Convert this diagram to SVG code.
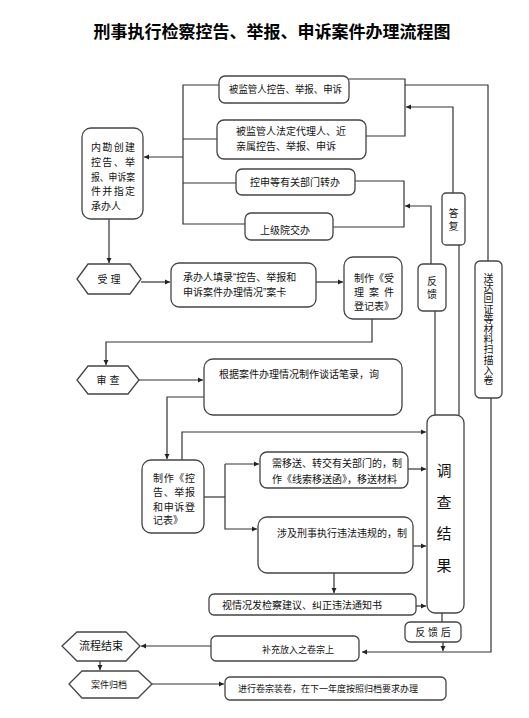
<svg xmlns="http://www.w3.org/2000/svg" width="529" height="718" viewBox="0 0 529 718">
<defs>
<marker id="arr" markerWidth="6" markerHeight="6" refX="5" refY="3" orient="auto" markerUnits="userSpaceOnUse">
<path d="M0,0.5 L5,3 L0,5.5 Z" fill="#222"/>
</marker>
<style>
.box{fill:#fff;stroke:#444;stroke-width:1.3}
.ln{fill:none;stroke:#333;stroke-width:1.2}
.t{font-family:"Liberation Sans","Noto Sans CJK SC",sans-serif;font-size:10px;fill:#111}
.c{text-anchor:middle}
.title{font-family:"Liberation Sans","Noto Sans CJK SC",sans-serif;font-size:17px;font-weight:bold;fill:#000;text-anchor:middle}
</style>
</defs>
<rect width="529" height="718" fill="#fff"/>
<text class="title" x="272" y="38">刑事执行检察控告、举报、申诉案件办理流程图</text>

<g id="connectors">
<path class="ln" d="M219,85 H183 V224 H245"/>
<path class="ln" d="M217,139 H183"/>
<path class="ln" d="M236,183 H183"/>
<path class="ln" d="M183,157 H144" marker-end="url(#arr)"/>
<path class="ln" d="M349,79 H405 V136 H366"/>
<path class="ln" d="M405,85 H488 V261"/>
<path class="ln" d="M453,193 V107 H406" marker-end="url(#arr)"/>
<path class="ln" d="M355,181 H404 V227 H333"/>
<path class="ln" d="M431,264 V206 H405" marker-end="url(#arr)"/>
<path class="ln" d="M435,311 V415"/>
<path class="ln" d="M459,245 V415"/>
<path class="ln" d="M491,398 V652 H362" marker-end="url(#arr)"/>
<path class="ln" d="M109,219 V263" marker-end="url(#arr)"/>
<path class="ln" d="M141,282 H170" marker-end="url(#arr)"/>
<path class="ln" d="M316,282 H343" marker-end="url(#arr)"/>
<path class="ln" d="M372,319 V342 H106 V365" marker-end="url(#arr)"/>
<path class="ln" d="M139,380 H203" marker-end="url(#arr)"/>
<path class="ln" d="M204,397 H167 V459" marker-end="url(#arr)"/>
<path class="ln" d="M182,460 V432 H426" marker-end="url(#arr)"/>
<path class="ln" d="M204,497 H225"/>
<path class="ln" d="M225,464 V529 H257" marker-end="url(#arr)"/>
<path class="ln" d="M225,464 H259" marker-end="url(#arr)"/>
<path class="ln" d="M408,469 H426" marker-end="url(#arr)"/>
<path class="ln" d="M413,546 H426" marker-end="url(#arr)"/>
<path class="ln" d="M334,573 V593" marker-end="url(#arr)"/>
<path class="ln" d="M416,606 H426" marker-end="url(#arr)"/>
<path class="ln" d="M442,613 V622"/>
<path class="ln" d="M443,642 V651" marker-end="url(#arr)"/>
<path class="ln" d="M211,646 H141" marker-end="url(#arr)"/>
<path class="ln" d="M100,661 V670" marker-end="url(#arr)"/>
<path class="ln" d="M152,684 H224" marker-end="url(#arr)"/>
</g>

<g id="n-box1">
<rect class="box" x="219" y="76" width="130" height="27" rx="6"/>
<text class="t" x="229" y="93" textLength="113" lengthAdjust="spacingAndGlyphs">被监管人控告、举报、申诉</text>
</g>
<g id="n-box2">
<rect class="box" x="217" y="120" width="149" height="39" rx="7"/>
<text class="t" x="236" y="135">被监管人法定代理人、近</text>
<text class="t" x="236" y="150">亲属控告、举报、申诉</text>
</g>
<g id="n-box3">
<rect class="box" x="236" y="169" width="119" height="26" rx="6"/>
<text class="t" x="250" y="186">控申等有关部门转办</text>
</g>
<g id="n-box4">
<rect class="box" x="245" y="213" width="88" height="27" rx="6"/>
<text class="t" x="260" y="234">上级院交办</text>
</g>
<g id="n-create">
<rect class="box" x="82" y="128" width="61" height="91" rx="9"/>
<text class="t" x="91" y="151" textLength="44" lengthAdjust="spacing">内勘创建</text>
<text class="t" x="91" y="166" textLength="44" lengthAdjust="spacing">控告、举</text>
<text class="t" x="91" y="181" textLength="44" lengthAdjust="spacingAndGlyphs">报、申诉案</text>
<text class="t" x="91" y="195" textLength="44" lengthAdjust="spacing">件并指定</text>
<text class="t" x="91" y="210">承办人</text>
</g>
<g id="n-dafu">
<rect class="box" x="442" y="193" width="23" height="52" rx="4"/>
<text class="t c" x="453.5" y="217">答</text>
<text class="t c" x="453.5" y="230">复</text>
</g>
<g id="n-fankui">
<rect class="box" x="418" y="264" width="28" height="47" rx="5"/>
<text class="t c" x="432" y="285">反</text>
<text class="t c" x="432" y="298">馈</text>
</g>
<g id="n-songda">
<rect class="box" x="475" y="261" width="27" height="137" rx="5"/>
<text class="t c" x="488.5" y="282">送</text>
<text class="t c" x="488.5" y="292.2">达</text>
<text class="t c" x="488.5" y="302.4">回</text>
<text class="t c" x="488.5" y="312.6">证</text>
<text class="t c" x="488.5" y="322.8">等</text>
<text class="t c" x="488.5" y="333">材</text>
<text class="t c" x="488.5" y="343.2">料</text>
<text class="t c" x="488.5" y="353.4">扫</text>
<text class="t c" x="488.5" y="363.6">描</text>
<text class="t c" x="488.5" y="373.8">入</text>
<text class="t c" x="488.5" y="384">卷</text>
</g>
<g id="n-shouli">
<polygon class="box" points="77,279 88,264 130,264 141,279 130,294 88,294"/>
<text class="t c" x="109" y="283">受 理</text>
</g>
<g id="n-tianlu">
<rect class="box" x="171" y="263" width="145" height="44" rx="8"/>
<text class="t" x="183" y="281">承办人填录“控告、举报和</text>
<text class="t" x="183" y="296">申诉案件办理情况”案卡</text>
</g>
<g id="n-dengji1">
<rect class="box" x="344" y="257" width="58" height="62" rx="9"/>
<text class="t" x="354" y="282" textLength="40" lengthAdjust="spacing">制作《受</text>
<text class="t" x="354" y="296" textLength="40" lengthAdjust="spacing">理案件</text>
<text class="t" x="354" y="310">登记表》</text>
</g>
<g id="n-shencha">
<polygon class="box" points="77,380 88,366 128,366 139,380 128,394 88,394"/>
<text class="t c" x="108" y="384">审 查</text>
</g>
<g id="n-genju">
<rect class="box" x="204" y="359" width="198" height="56" rx="9"/>
<text class="t" x="219" y="378">根据案件办理情况制作谈话笔录，询</text>
</g>
<g id="n-dengji2">
<rect class="box" x="142" y="460" width="62" height="73" rx="9"/>
<text class="t" x="153" y="482" textLength="42" lengthAdjust="spacing">制作《控</text>
<text class="t" x="153" y="496" textLength="42" lengthAdjust="spacing">告、举报</text>
<text class="t" x="153" y="511" textLength="42" lengthAdjust="spacing">和申诉登</text>
<text class="t" x="153" y="524">记表》</text>
</g>
<g id="n-yisong">
<rect class="box" x="260" y="452" width="148" height="36" rx="7"/>
<text class="t" x="272" y="467">需移送、转交有关部门的，制</text>
<text class="t" x="272" y="483">作《线索移送函》，移送材料</text>
</g>
<g id="n-sheji">
<rect class="box" x="258" y="517" width="155" height="56" rx="9"/>
<text class="t" x="277" y="537">涉及刑事执行违法违规的，制</text>
</g>
<g id="n-jianyi">
<rect class="box" x="209" y="594" width="207" height="21" rx="5"/>
<text class="t" x="222" y="609">视情况发检察建议、纠正违法通知书</text>
</g>
<g id="n-diaocha">
<rect class="box" x="427" y="415" width="37" height="198" rx="8"/>
<text class="t c" x="444" y="476" style="font-size:15px">调</text>
<text class="t c" x="444" y="508" style="font-size:15px">查</text>
<text class="t c" x="444" y="539" style="font-size:15px">结</text>
<text class="t c" x="444" y="571" style="font-size:15px">果</text>
</g>
<g id="n-fankuihou">
<rect class="box" x="405" y="622" width="56" height="20" rx="5"/>
<text class="t c" x="433" y="636">反 馈 后</text>
</g>
<g id="n-buchong">
<rect class="box" x="211" y="636" width="148" height="25" rx="5"/>
<text class="t" x="262" y="653" style="font-size:9px">补充放入之卷宗上</text>
</g>
<g id="n-jieshu">
<polygon class="box" points="62,646 77,632 126,632 140,646 126,661 77,661"/>
<text class="t c" x="101" y="650" style="font-size:11px">流程结束</text>
</g>
<g id="n-guidang">
<polygon class="box" points="69,684 82,671 138,671 152,684 138,698 82,698"/>
<text class="t c" x="109" y="688" style="font-size:9px">案件归档</text>
</g>
<g id="n-zhuangjuan">
<rect class="box" x="225" y="677" width="221" height="23" rx="5"/>
<text class="t" x="238" y="692" style="font-size:9px">进行卷宗装卷，在下一年度按照归档要求办理</text>
</g>
</svg>
